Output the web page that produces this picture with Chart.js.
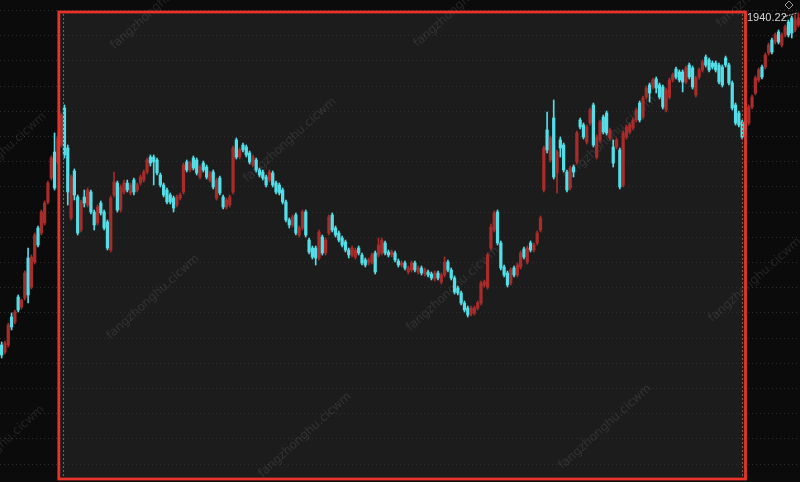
<!DOCTYPE html>
<html>
<head>
<meta charset="utf-8">
<script src="https://cdn.jsdelivr.net/npm/chart.js@4/dist/chart.umd.min.js"></script>
<style>
  html, body { margin: 0; padding: 0; background: #0b0b0b; }
  #wrap { width: 800px; height: 482px; position: relative; }
</style>
</head>
<body>
<div id="wrap"><canvas id="kChart"></canvas></div>
<script>
// daily candles (index points)
const opens = [
  1613,1606,1613,1641,1636,1661,1651,1660,1700,1671,
  1696,1730,1725,1735,1756,1780,1806,1796,1813,1850,
  1810,1740,1787,1761,1728,1761,1753,1766,1746,1735,
  1755,1746,1736,1708,1763,1775,1748,1766,1775,1765,
  1778,1768,1775,1778,1786,1801,1801,1798,1783,1773,
  1768,1763,1760,1753,1760,1766,1796,1788,1800,1798,
  1781,1795,1791,1778,1786,1760,1780,1761,1751,1753,
  1766,1818,1801,1813,1811,1805,1793,1798,1788,1786,
  1781,1778,1785,1775,1773,1768,1756,1738,1733,1743,
  1723,1730,1746,1718,1710,1710,1700,1721,1705,1725,
  1743,1730,1725,1720,1716,1708,1703,1701,1710,1703,
  1698,1695,1696,1705,1703,1705,1715,1706,1703,1705,
  1697,1693,1695,1686,1688,1695,1686,1690,1684,1686,
  1684,1679,1685,1676,1683,1696,1688,1680,1670,1665,
  1655,1650,1644,1645,1650,1655,1673,1671,1710,1728,
  1746,1715,1691,1685,1675,1690,1683,1691,1709,1696,
  1715,1708,1715,1728,1768,1828,1798,1840,1785,1818,
  1813,1786,1770,1791,1796,1838,1833,1816,1835,1853,
  1801,1818,1841,1845,1820,1811,1811,1808,1773,1821,
  1826,1830,1838,1855,1841,1861,1873,1871,1879,1873,
  1871,1848,1861,1878,1889,1886,1886,1876,1893,1890,
  1863,1881,1888,1901,1898,1895,1895,1893,1891,1900,
  1893,1875,1853,1845,1836,1834,1835,1851,1865,1878,
  1891,1891,1905,1918,1916,1926,1913,1923,1936,1940,
  1928,1933
];
const highs = [
  1616,1617,1635,1645,1648,1663,1659,1687,1710,1703,
  1725,1732,1748,1757,1777,1802,1825,1822,1845,1853,
  1813,1783,1789,1763,1758,1768,1770,1768,1748,1753,
  1757,1748,1738,1762,1786,1777,1773,1778,1778,1775,
  1780,1775,1783,1788,1800,1803,1803,1800,1785,1775,
  1770,1765,1762,1763,1765,1795,1798,1797,1802,1800,
  1793,1797,1793,1787,1788,1780,1782,1763,1760,1763,
  1812,1820,1810,1815,1813,1807,1803,1800,1790,1788,
  1783,1788,1787,1777,1775,1770,1758,1740,1743,1745,
  1732,1748,1748,1720,1712,1712,1728,1723,1720,1743,
  1745,1732,1727,1722,1718,1710,1712,1710,1712,1705,
  1700,1700,1705,1707,1720,1720,1717,1708,1708,1707,
  1699,1697,1697,1692,1697,1697,1692,1692,1690,1688,
  1686,1687,1687,1685,1701,1698,1690,1682,1672,1667,
  1657,1652,1652,1652,1657,1677,1678,1705,1734,1747,
  1748,1717,1693,1687,1690,1692,1695,1707,1711,1712,
  1717,1715,1727,1742,1812,1846,1822,1858,1808,1821,
  1815,1788,1792,1793,1827,1840,1835,1833,1850,1855,
  1823,1838,1843,1847,1830,1818,1820,1810,1827,1833,
  1835,1840,1850,1857,1862,1872,1875,1880,1881,1875,
  1873,1870,1880,1885,1891,1888,1888,1892,1895,1892,
  1882,1890,1898,1903,1900,1897,1897,1895,1893,1902,
  1895,1877,1855,1847,1838,1838,1853,1863,1882,1890,
  1893,1905,1915,1920,1925,1928,1925,1933,1938,1942,
  1943,1945
];
const lows = [
  1600,1604,1611,1628,1634,1646,1649,1658,1655,1669,
  1694,1711,1723,1733,1754,1778,1768,1794,1811,1800,
  1753,1738,1758,1723,1726,1751,1751,1744,1728,1733,
  1743,1728,1708,1706,1761,1746,1746,1764,1766,1763,
  1763,1766,1773,1776,1784,1792,1773,1783,1771,1761,
  1754,1754,1746,1751,1758,1764,1786,1786,1788,1783,
  1779,1786,1779,1776,1769,1758,1763,1749,1749,1751,
  1764,1799,1799,1806,1801,1794,1791,1786,1781,1778,
  1771,1776,1771,1764,1763,1754,1736,1730,1731,1723,
  1721,1728,1721,1704,1699,1693,1698,1703,1703,1723,
  1726,1721,1716,1711,1706,1700,1701,1699,1703,1693,
  1691,1693,1694,1684,1701,1703,1703,1701,1701,1696,
  1691,1691,1688,1684,1686,1686,1684,1683,1682,1681,
  1678,1677,1678,1674,1681,1686,1678,1664,1663,1653,
  1646,1641,1642,1643,1648,1653,1671,1669,1708,1726,
  1713,1688,1681,1671,1673,1681,1681,1689,1699,1694,
  1706,1706,1713,1726,1766,1805,1796,1779,1765,1801,
  1786,1766,1768,1781,1794,1829,1819,1814,1833,1811,
  1799,1816,1824,1823,1818,1791,1809,1769,1771,1819,
  1824,1828,1836,1836,1839,1859,1856,1869,1865,1859,
  1849,1846,1859,1876,1879,1876,1866,1874,1879,1869,
  1861,1879,1886,1891,1886,1889,1886,1874,1871,1891,
  1873,1848,1833,1831,1819,1823,1833,1849,1863,1876,
  1879,1889,1903,1904,1914,1914,1911,1921,1921,1920,
  1926,1931
];
const closes = [
  1603,1615,1633,1631,1646,1648,1658,1685,1663,1701,
  1723,1713,1746,1755,1775,1800,1770,1820,1843,1803,
  1766,1781,1763,1725,1756,1755,1768,1746,1733,1751,
  1745,1730,1710,1760,1776,1748,1771,1775,1768,1773,
  1766,1773,1781,1786,1798,1795,1796,1785,1773,1763,
  1756,1756,1750,1761,1763,1793,1788,1795,1790,1785,
  1791,1788,1781,1785,1771,1778,1765,1751,1758,1761,
  1810,1801,1808,1808,1803,1796,1801,1788,1783,1780,
  1773,1786,1773,1766,1765,1756,1738,1733,1741,1725,
  1730,1746,1723,1706,1701,1700,1726,1705,1718,1741,
  1728,1723,1718,1713,1708,1703,1710,1708,1705,1695,
  1693,1698,1703,1686,1713,1718,1705,1703,1706,1698,
  1693,1695,1690,1690,1695,1688,1690,1685,1688,1683,
  1680,1685,1680,1683,1696,1688,1680,1666,1665,1655,
  1648,1643,1650,1650,1655,1675,1676,1703,1731,1745,
  1715,1690,1683,1673,1688,1683,1693,1705,1701,1710,
  1708,1713,1725,1740,1810,1808,1820,1781,1806,1810,
  1788,1768,1790,1786,1825,1831,1821,1831,1848,1813,
  1821,1836,1826,1825,1828,1795,1818,1771,1825,1831,
  1833,1838,1848,1838,1860,1870,1865,1878,1870,1861,
  1851,1868,1878,1883,1881,1878,1876,1890,1881,1871,
  1880,1888,1896,1893,1888,1891,1888,1876,1873,1893,
  1875,1850,1835,1833,1821,1828,1851,1861,1880,1888,
  1881,1903,1913,1906,1923,1916,1923,1931,1923,1925,
  1938,1940.22
];
const lastPriceLabel = '1940.22';
const watermarkText = 'fangzhonghu.cicwm';

const labels = closes.map((_, i) => i + 1);
const upColor = '#a82c2a';
const downColor = '#54dfe8';
const candleColors = closes.map((c, i) => c >= opens[i] ? upColor : downColor);

// dotted horizontal grid, one line every ~25px
const yMin = 1476, yMax = 1958;
const gridVals = [];
for (let v = 1947.5; v > yMin; v -= 25.2) gridVals.push(v);

const marks = [[157,7],[0,155],[290,140],[460,5],[153,297],[453,289],[610,138],[305,435],[605,427],[-2,448],[755,280],[763,-15]];

const backdrop = {
  id: 'backdrop',
  beforeDraw(chart) {
    const { ctx, width, height } = chart;
    ctx.save();
    ctx.fillStyle = '#0b0b0b';
    ctx.fillRect(0, 0, width, height);
    ctx.fillStyle = '#1c1c1c';
    ctx.fillRect(59, 12, 687, 467);
    ctx.restore();
  },
  beforeDatasetsDraw(chart) {
    const ctx = chart.ctx;
    ctx.save();
    ctx.font = '12px "DejaVu Sans"';
    ctx.fillStyle = 'rgba(210,210,210,0.12)';
    ctx.textAlign = 'center';
    ctx.textBaseline = 'middle';
    marks.forEach(([x, y]) => {
      ctx.save();
      ctx.translate(x, y);
      ctx.rotate(-42 * Math.PI / 180);
      ctx.fillText(watermarkText, 0, 0);
      ctx.restore();
    });
    ctx.restore();
  },
  afterDraw(chart) {
    const ctx = chart.ctx;
    ctx.save();
    // range markers
    ctx.strokeStyle = '#6e6254';
    ctx.lineWidth = 1;
    ctx.setLineDash([2, 2]);
    [63.5, 742.5].forEach(x => {
      ctx.beginPath();
      ctx.moveTo(x, 14);
      ctx.lineTo(x, 478);
      ctx.stroke();
    });
    // selection box
    ctx.setLineDash([]);
    ctx.strokeStyle = '#e8332a';
    ctx.lineWidth = 2.8;
    ctx.strokeRect(58.8, 12, 686.7, 467);
    // last price tag
    ctx.font = '11px "Liberation Sans"';
    ctx.fillStyle = '#d4d4d4';
    ctx.textBaseline = 'middle';
    ctx.fillText(lastPriceLabel, 747, 18);
    ctx.strokeStyle = '#cfcfcf';
    ctx.lineWidth = 1;
    ctx.setLineDash([2, 1]);
    ctx.beginPath();
    ctx.moveTo(783, 17);
    ctx.lineTo(797, 13);
    ctx.stroke();
    ctx.setLineDash([]);
    ctx.strokeStyle = '#9a9a9a';
    ctx.beginPath();
    ctx.moveTo(789, 1); ctx.lineTo(793, 5); ctx.lineTo(789, 9); ctx.lineTo(785, 5); ctx.closePath();
    ctx.stroke();
    ctx.restore();
  }
};

new Chart(document.getElementById('kChart'), {
  type: 'bar',
  data: {
    labels: labels,
    datasets: [{
      label: 'body',
      data: opens.map((o, i) => [o, closes[i]]),
      backgroundColor: candleColors,
      barThickness: 2.6,
      minBarLength: 1,
      grouped: false
    }, {
      label: 'wick',
      data: lows.map((l, i) => [l, highs[i]]),
      backgroundColor: candleColors,
      barThickness: 1,
      grouped: false
    }]
  },
  options: {
    responsive: true,
    maintainAspectRatio: false,
    animation: false,
    layout: { padding: 0 },
    plugins: { legend: { display: false }, tooltip: { enabled: false } },
    scales: {
      x: { display: false, offset: true, grid: { display: false } },
      y: {
        min: yMin,
        max: yMax,
        afterBuildTicks: s => { s.ticks = gridVals.map(v => ({ value: v })); },
        ticks: { display: false },
        grid: { color: '#303030', drawTicks: false },
        border: { display: false, dash: [1, 3] }
      }
    }
  },
  plugins: [backdrop]
});
</script>
</body>
</html>
